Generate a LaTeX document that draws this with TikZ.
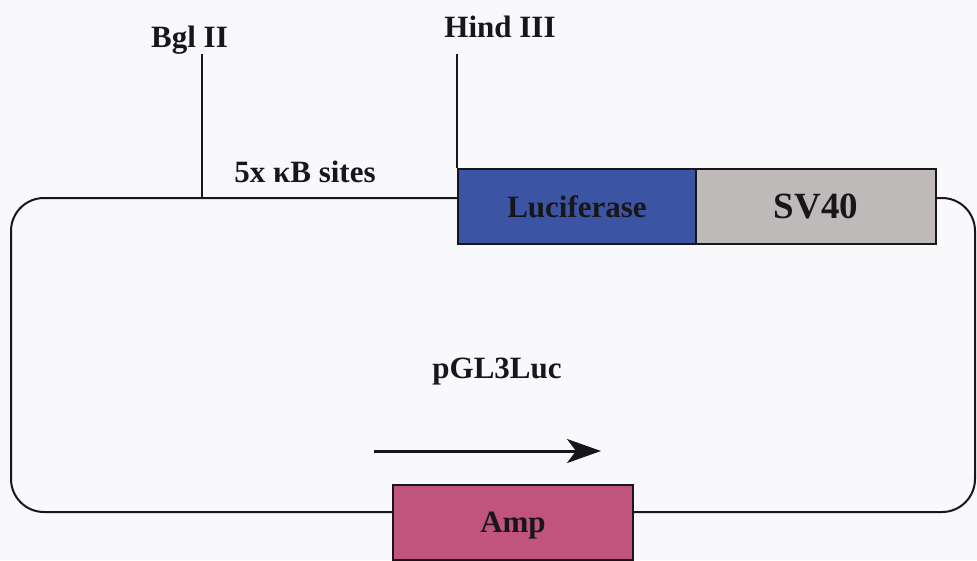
\documentclass[tikz,border=0pt]{standalone}
\usepackage{fontspec}
\setmainfont{Liberation Serif}
\usetikzlibrary{arrows.meta}
\definecolor{lucblue}{RGB}{60,84,164}
\definecolor{svgray}{RGB}{190,186,186}
\definecolor{amppink}{RGB}{192,84,122}
\definecolor{bgwhite}{RGB}{249,249,251}
\definecolor{inkline}{RGB}{25,22,25}
\tikzset{
  lbl/.style={font=\fontsize{31}{37}\selectfont\bfseries, text=inkline, inner sep=0pt, anchor=base},
  genebox/.style={draw=inkline, line width=2pt, anchor=north west, inner sep=0pt,
    minimum height=75pt, font=\fontsize{31}{37}\selectfont\bfseries, text=inkline},
  backbone/.style={draw=inkline, line width=2pt, rounded corners=33pt},
  siteline/.style={draw=inkline, line width=1.6pt},
  dirarrow/.style={draw=inkline, line width=3pt, -{Stealth[length=34pt,width=24pt,inset=9pt]}}
}
\begin{document}
\begin{tikzpicture}[x=1pt,y=-1pt]
\useasboundingbox[fill=bgwhite] (0,0) rectangle (977,560);
% gene boxes
\node[genebox, fill=lucblue, minimum width=238pt] (luc) at (457,168) {Luciferase};
\node[genebox, fill=svgray, minimum width=240pt, font=\fontsize{37}{42}\selectfont\bfseries] (sv) at (695,168) {SV40};
\node[genebox, fill=amppink, minimum width=240pt, text depth=0pt] (amp) at (392,484) {Amp};
% site coordinates
\coordinate (bgltop) at (202,54);
\coordinate (bglsite) at (202,198);
\coordinate (hindtop) at (457,54);
\coordinate (svout) at (935,198);
% backbone
\draw[backbone] (luc.west |- bglsite) -- (11,198) -- (11,512) -- (amp.west |- 0,512);
\draw[backbone] (amp.east |- 0,512) -- (975,512) -- (975,198) -- (svout);
% restriction sites
\draw[siteline] (bgltop) -- (bglsite);
\draw[siteline] (hindtop) -- (luc.north west);
% labels
\node[lbl] (bgl) at (189.5,47) {Bgl II};
\node[lbl] (hind) at (500,37) {Hind III};
\node[lbl] (kb) at (305,182) {5x κB sites};
\node[lbl] (pgl) at (497,378) {pGL3Luc};
% direction arrow
\coordinate (arrs) at (374,451);
\coordinate (arre) at (601,451);
\draw[dirarrow] (arrs) -- (arre);
\end{tikzpicture}
\end{document}
